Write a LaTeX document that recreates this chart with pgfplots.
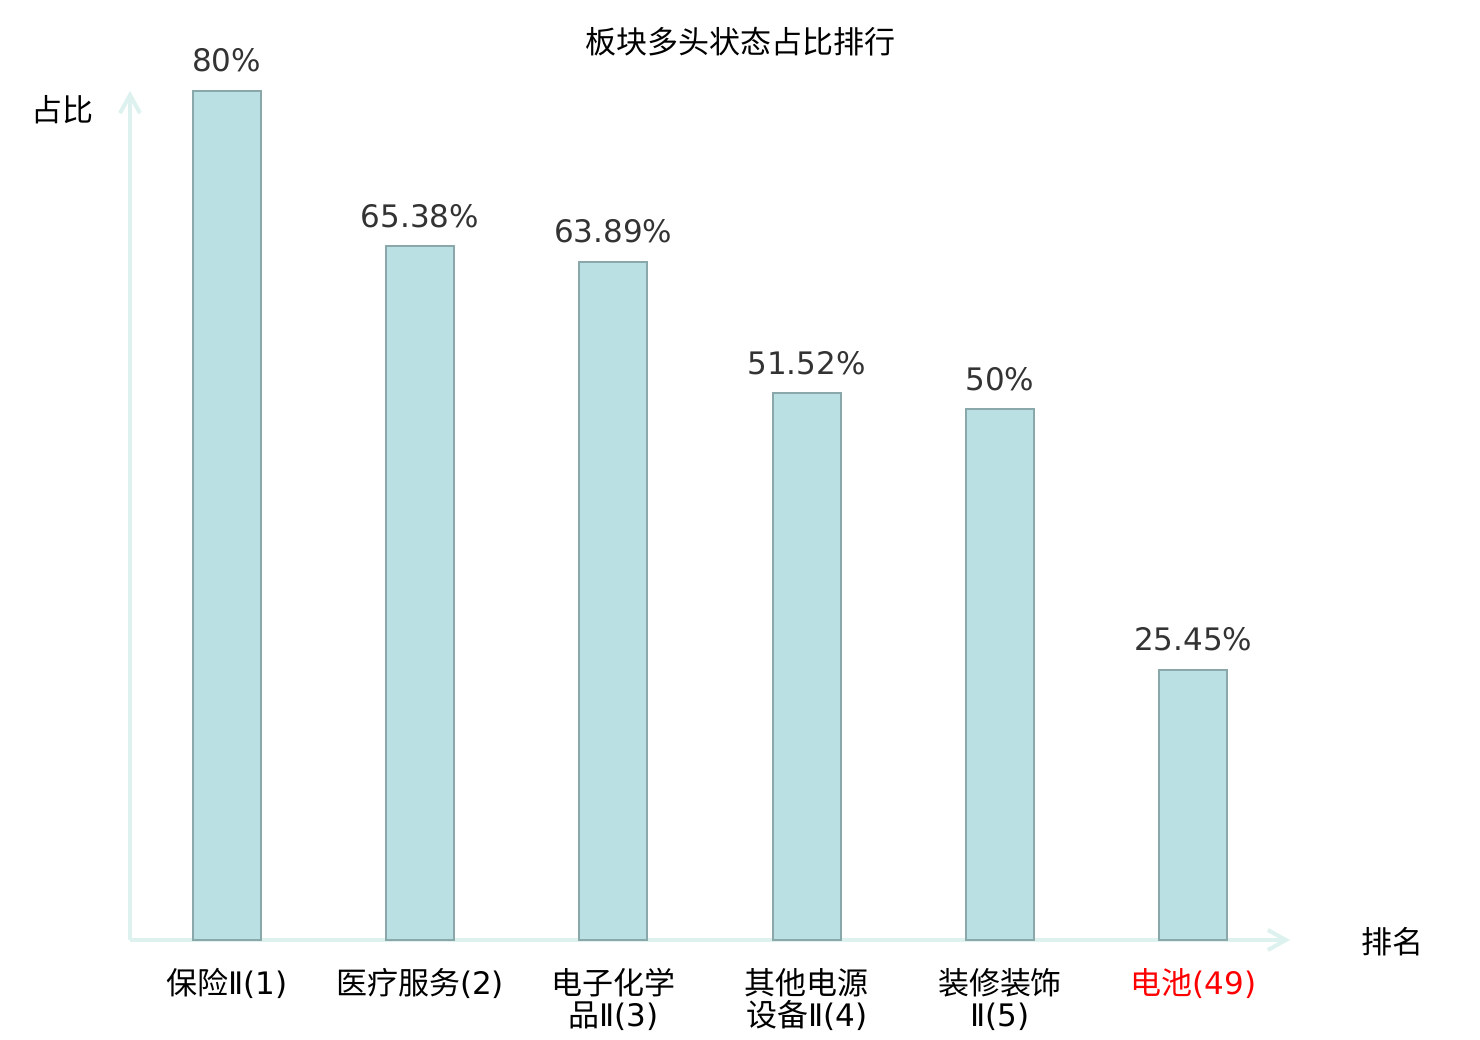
\documentclass[border=0pt]{standalone}
\usepackage{pgfplots}
\pgfplotsset{compat=1.18}
\usepackage{fontspec}
\usetikzlibrary{arrows.meta}
\setmainfont{Noto Sans CJK SC}
\newfontfamily\dejavu{DejaVu Sans}
\newcommand{\dv}[1]{{\dejavu #1}}
\definecolor{barfill}{HTML}{BBE0E3}
\definecolor{baredge}{HTML}{8AA8AA}
\definecolor{axcol}{HTML}{DDF2EF}
\definecolor{valcol}{HTML}{333333}
\begin{document}
\begin{tikzpicture}
\useasboundingbox (0,0) rectangle (740pt,520pt);
\begin{axis}[
  at={(65pt,50pt)}, anchor=south west,
  scale only axis, width=580pt, height=424.5pt,
  xmin=-0.5, xmax=5.5, ymin=0, ymax=80,
  axis lines=left,
  axis line style={draw=axcol, line width=2pt},
  every outer x axis line/.append style={-{Straight Barb[length=9pt,width=10pt,line width=2pt]}},
  every outer y axis line/.append style={-{Straight Barb[length=9pt,width=10pt,line width=2pt]}},
  ytick=\empty,
  xtick={0,1,2,3,4,5},
  major tick length=0pt,
  xticklabels={保险\dv{Ⅱ(1)},医疗服务\dv{(2)},电子化学\\品\dv{Ⅱ(3)},其他电源\\设备\dv{Ⅱ(4)},装修装饰\\\dv{Ⅱ(5)},{\color{red}电池\dv{(49)}}},
  xticklabel style={align=center, font=\fontsize{15.5}{16}\selectfont, anchor=north, yshift=-10.5pt, text=black},
  clip=false,
  nodes near coords,
  point meta=explicit symbolic,
  every node near coord/.append style={font=\dejavu\fontsize{15.5}{16}\selectfont, text=valcol, anchor=base, yshift=9.5pt},
]
\addplot[ybar, bar width=0.352, fill=barfill, draw=baredge, line width=1pt] coordinates {
  (0,80) [80\%]
  (1,65.38) [65.38\%]
  (2,63.89) [63.89\%]
  (3,51.52) [51.52\%]
  (4,50) [50\%]
  (5,25.45) [25.45\%]
};
\end{axis}
\node[font=\fontsize{15.5}{16}\selectfont] at (370pt,499pt) {板块多头状态占比排行};
\node[font=\fontsize{15.5}{16}\selectfont] at (31.5pt,465pt) {占比};
\node[font=\fontsize{15.5}{16}\selectfont] at (696pt,49pt) {排名};
\end{tikzpicture}
\end{document}
